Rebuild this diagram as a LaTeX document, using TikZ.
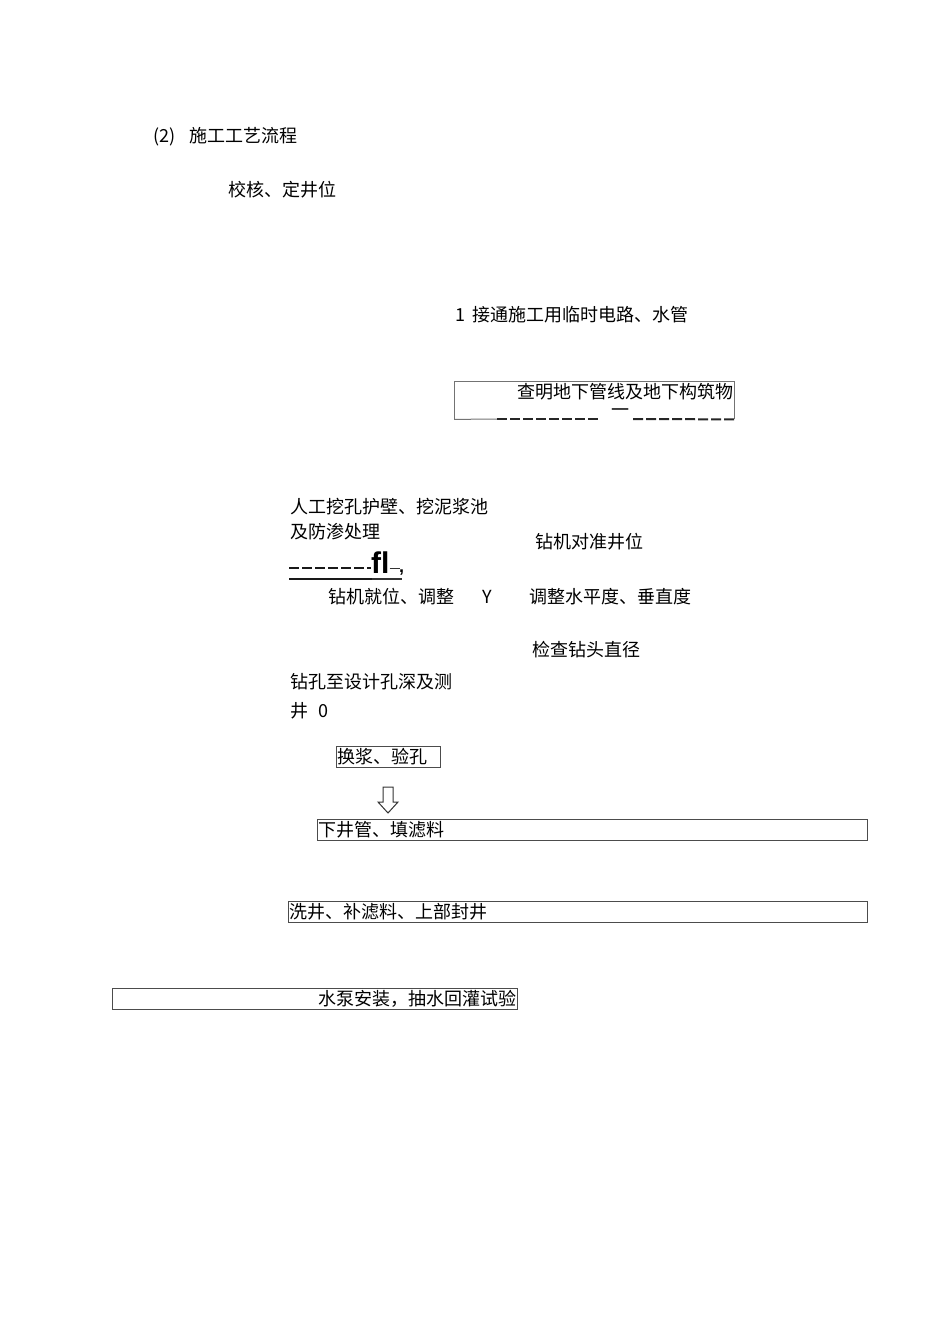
\documentclass[tikz,border=0pt]{standalone}
\usepackage{fontspec}
\setmainfont{Noto Sans CJK SC}
\newfontfamily\latinsans{Liberation Sans}
\begin{document}
\begin{tikzpicture}[x=1pt,y=-1pt]
    \useasboundingbox (0,0) rectangle (950,1344);

    \begin{scope}[every node/.style={anchor=west, inner sep=0pt, font=\fontsize{18}{20}\selectfont}]
        \node (title) at (153,137) {(2)\hspace{14pt}施工工艺流程};
        \node (dingwei) at (228,190) {校核、定井位};
        \node (jietong) at (455,315) {1\hspace{7pt}接通施工用临时电路、水管};
        \node (chaming) at (517,392) {查明地下管线及地下构筑物};
        \node (yi) at (611,413) {一};
        \node (wakong) at (290,507) {人工挖孔护壁、挖泥浆池};
        \node (fangshen) at (290,532) {及防渗处理};
        \node (duizhun) at (535,542) {钻机对准井位};
        \node (jiuwei) at (328,597) {钻机就位、调整};
        \node (y) at (482,597) {Y};
        \node (tiaozheng) at (529,597) {调整水平度、垂直度};
        \node (zuantou) at (532,650) {检查钻头直径};
        \node (zuankong) at (290,682) {钻孔至设计孔深及测};
        \node (ce) at (290,711) {井\hspace{10pt}0};
        \node[font=\latinsans\bfseries\fontsize{30}{30}\selectfont] (fl) at (371,563) {fl};
        \node[font=\latinsans\bfseries\fontsize{18}{18}\selectfont] (comma) at (399,573) {,};
    \end{scope}

    \begin{scope}[every node/.style={draw=black!70, line width=1pt, inner xsep=1pt, inner ysep=0pt, minimum height=21, anchor=north west, align=left, font=\fontsize{18}{20}\selectfont}]
        \node[text width=102] (huanjiang) at (336,746) {换浆、验孔};
        \node[text width=548] (xiajing) at (317,819) {下井管、填滤料};
        \node[text width=577] (xijing) at (288,901) {洗井、补滤料、上部封井};
        \node[text width=403, align=right] (shuibeng) at (112,988) {水泵安装，抽水回灌试验};
    \end{scope}

    \node[minimum width=280, minimum height=38, inner sep=0pt, anchor=north west] (chambox) at (454,381) {};
    \coordinate (c1) at (497,419);
    \coordinate (c2) at (598,419);
    \coordinate (c3) at (633,419);
    \coordinate (d1) at (289,568);
    \coordinate (d2) at (400,568);
    \coordinate (d3) at (289,579);
    \coordinate (d4) at (372,579);
    \coordinate (d5) at (402,579);

    \begin{scope}[every path/.style={line cap=butt}]
        \draw [black!55, line width=1pt] (chambox.south west) |- (chambox.north east) -- (chambox.south east);
        \draw [black!55, line width=1pt] (chambox.south west) -- (c1);
        \draw [black!85, line width=2pt, dash pattern=on 10pt off 3pt] (c1) -- (c2);
        \draw [black!85, line width=2pt, dash pattern=on 10pt off 3pt] (c3) -- (chambox.south east);
        \draw [black!90, line width=2.5pt, dash pattern=on 10pt off 3pt] (d1) -- (d1 -| fl.west);
        \draw [black!80, line width=1pt] (fl.east |- d2) -- (d2);
        \draw [black!90, line width=2.5pt] (d3) -- (d4);
        \draw [black!80, line width=1.5pt] (d4) -- (d5);
    \end{scope}

    \draw [black!80, line width=1pt, line join=miter] (383,787) -- (393,787) -- (393,802) -- (398,802) -- (388,813) -- (378,802) -- (383,802) -- cycle;
\end{tikzpicture}
\end{document}
